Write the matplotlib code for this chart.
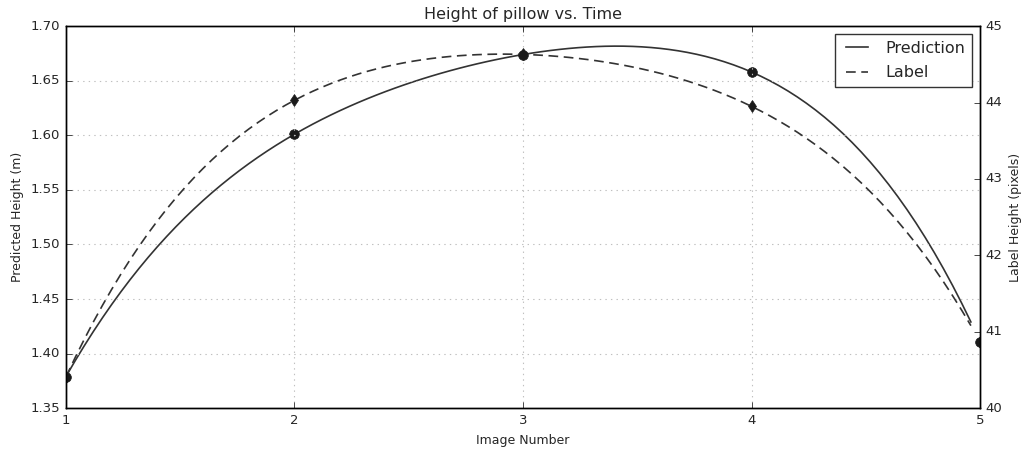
import numpy as np
import matplotlib
matplotlib.use("Agg")
import matplotlib.pyplot as plt

plt.style.use("classic")

# datos
image_number = [1, 2, 3, 4, 5]
predicted_height = [1.379, 1.601, 1.674, 1.658, 1.411]   # metros (eje izquierdo)
label_height = [40.41, 44.03, 44.63, 43.95, 40.87]        # pixeles (eje derecho)

# curva suave a partir de los puntos
x_smooth = np.arange(1, 5, 0.04)
pred_smooth = np.polyval(np.polyfit(image_number, predicted_height, 4), x_smooth)
label_smooth = np.polyval(np.polyfit(image_number, label_height, 4), x_smooth)

text_color = "#262626"
line_color = "#333333"

fig = plt.figure(figsize=(10.23, 4.51), dpi=100, facecolor="white")
ax1 = fig.add_subplot(111)
fig.subplots_adjust(left=0.0645, right=0.958, top=0.942, bottom=0.095)

l1, = ax1.plot(x_smooth, pred_smooth, "-", color=line_color, linewidth=1.2, label="Prediction")
ax1.plot(image_number, predicted_height, "o", color="#1a1a1a", markersize=7, markeredgecolor="#1a1a1a")
ax1.set_xlim(1, 5)
ax1.set_ylim(1.35, 1.70)
ax1.set_xticks([1, 2, 3, 4, 5])
ax1.set_yticks(np.arange(1.35, 1.7001, 0.05))
ax1.set_xlabel("Image Number", fontsize=9, color=text_color)
ax1.set_ylabel("Predicted Height (m)", fontsize=9, color=text_color)
ax1.set_title("Height of pillow vs. Time", fontsize=11.5, color=text_color)
ax1.grid(True, color="#c0c0c0", linestyle=":", linewidth=0.8)
ax1.tick_params(labelsize=9.5, labelcolor=text_color)

ax2 = ax1.twinx()
l2, = ax2.plot(x_smooth, label_smooth, "--", color=line_color, linewidth=1.2,
               dashes=(7, 4), label="Label")
ax2.plot(image_number, label_height, "d", color="#1a1a1a", markersize=6, markeredgecolor="#1a1a1a")
ax2.set_ylim(40, 45)
ax2.set_xlim(1, 5)
ax2.set_ylabel("Label Height (pixels)", fontsize=9, color=text_color)
ax2.tick_params(labelsize=9.5, labelcolor=text_color)

leg = ax2.legend([l1, l2], ["Prediction", "Label"], loc="upper right",
                 fontsize=11.5, labelspacing=0.6)
leg.get_frame().set_edgecolor("#333333")
for t in leg.get_texts():
    t.set_color(text_color)

plt.savefig("out.png", dpi=100, facecolor="white")
